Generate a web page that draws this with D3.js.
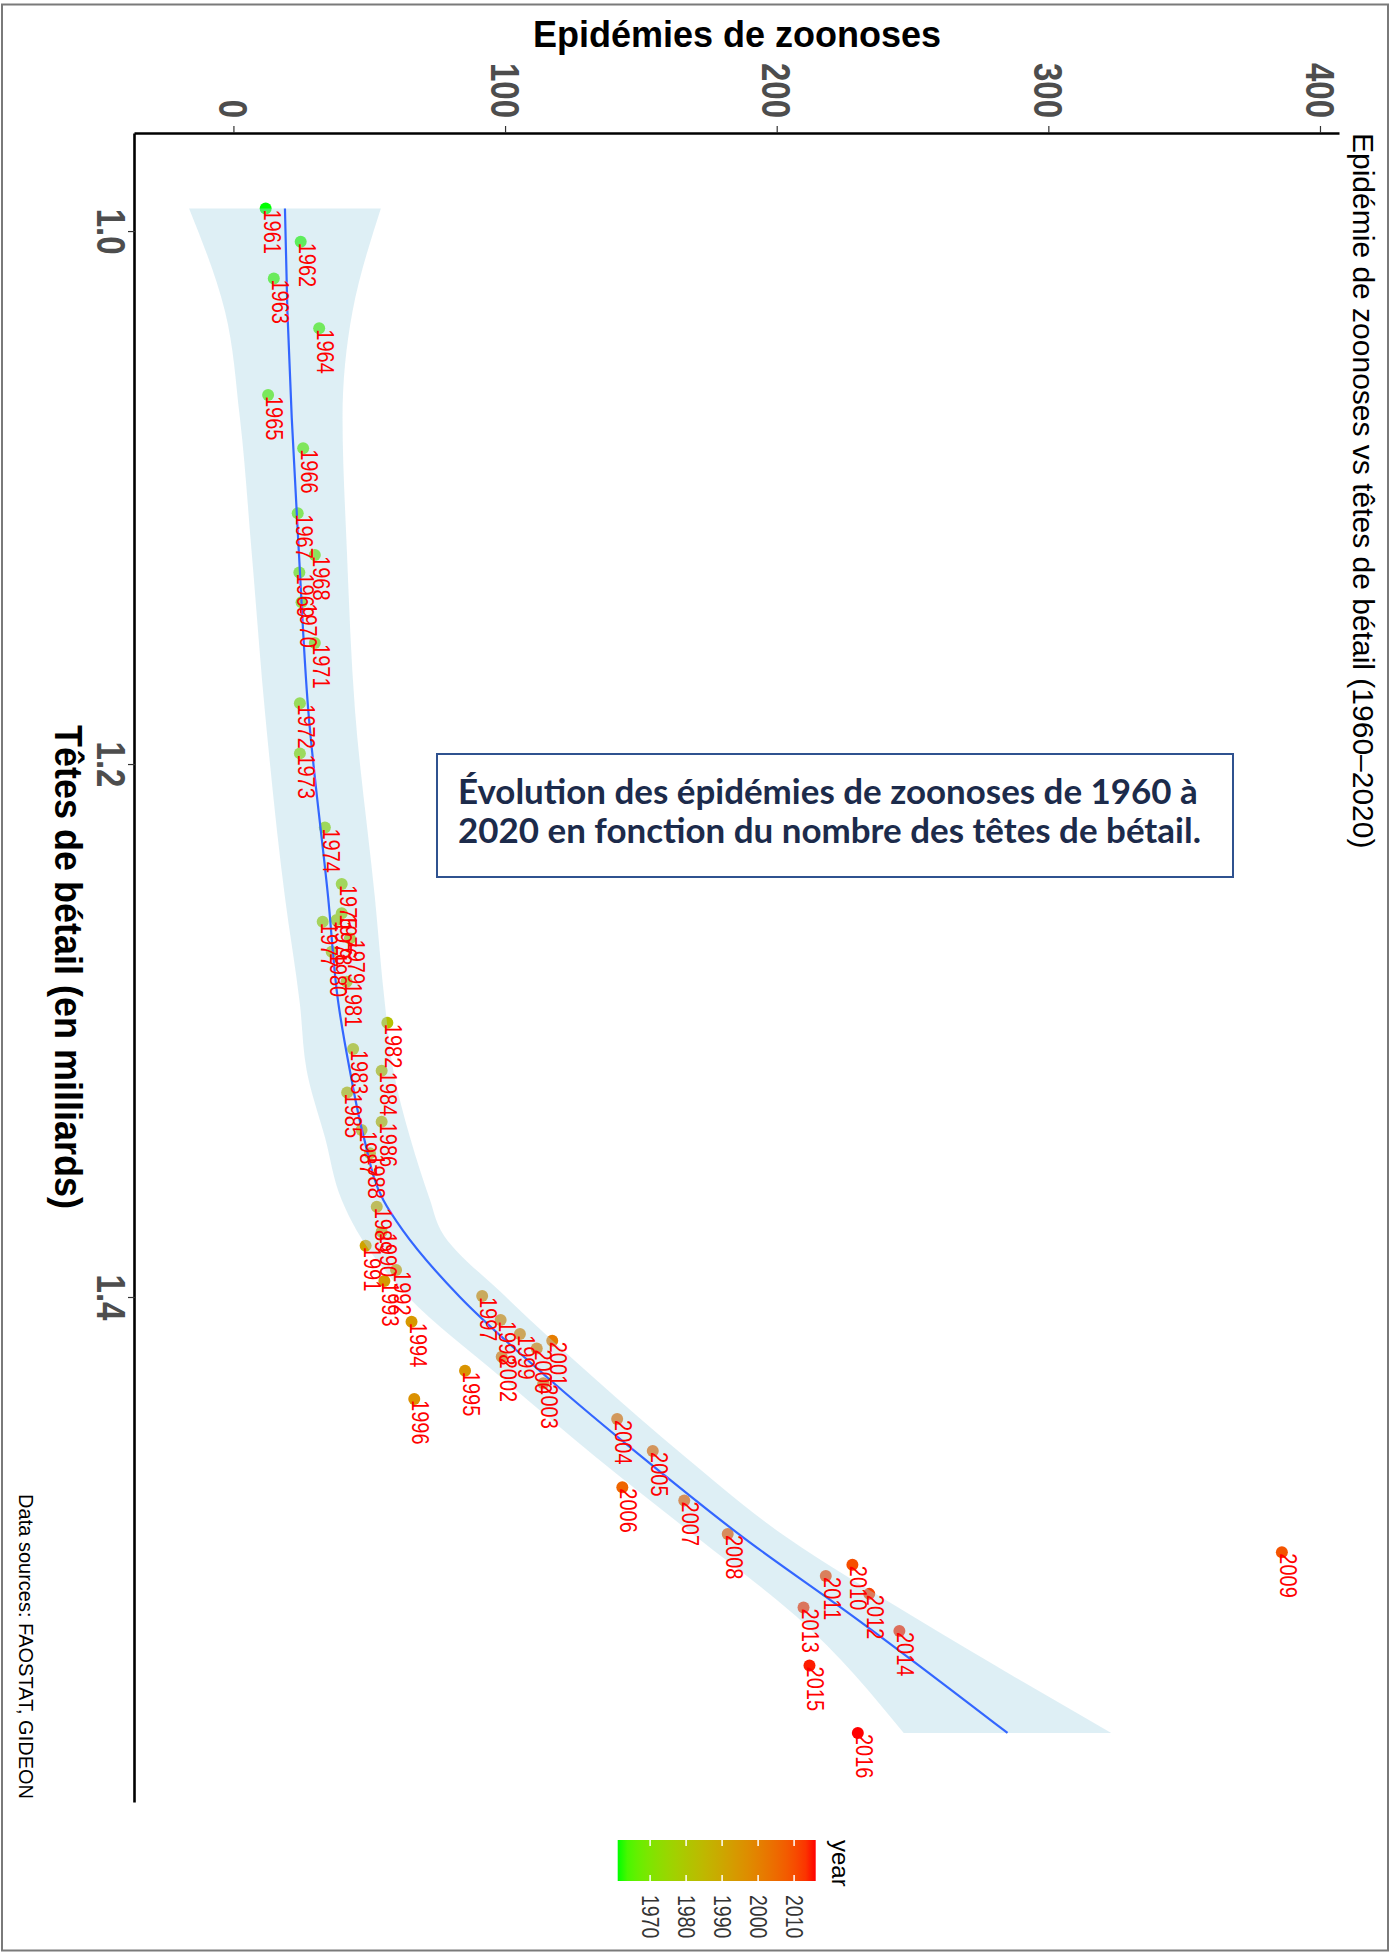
<!DOCTYPE html>
<html>
<head>
<meta charset="utf-8">
<style>
body { margin: 0; background: #fff; }
svg { display: block; }
</style>
<script src="https://d3js.org/d3.v7.min.js"></script>
</head>
<body>
<svg width="1397" height="1953"></svg>
<script>
// points: one per year, cattle heads (billions) vs zoonose outbreaks
var years = [1961, 1962, 1963, 1964, 1965, 1966, 1967, 1968, 1969, 1970,
             1971, 1972, 1973, 1974, 1975, 1976, 1977, 1978, 1979, 1980,
             1981, 1982, 1983, 1984, 1985, 1986, 1987, 1988, 1989, 1990,
             1991, 1992, 1993, 1994, 1995, 1996, 1997, 1998, 1999, 2000,
             2001, 2002, 2003, 2004, 2005, 2006, 2007, 2008, 2009, 2010,
             2011, 2012, 2013, 2014, 2015, 2016];
var cattle = [0.9915, 1.0040, 1.0178, 1.0365, 1.0615, 1.0815, 1.1059, 1.1216, 1.1281, 1.1393,
              1.1546, 1.1772, 1.1960, 1.2238, 1.2450, 1.2560, 1.2592, 1.2585, 1.2655, 1.2704,
              1.2817, 1.2971, 1.3069, 1.3151, 1.3233, 1.3342, 1.3373, 1.3461, 1.3661, 1.3755,
              1.3808, 1.3899, 1.3940, 1.4093, 1.4277, 1.4383, 1.3996, 1.4086, 1.4139, 1.4193,
              1.4164, 1.4224, 1.4324, 1.4458, 1.4578, 1.4714, 1.4764, 1.4889, 1.4958, 1.5005,
              1.5047, 1.5114, 1.5165, 1.5253, 1.5383, 1.5636];
var outbreaks = [11.5, 24.4, 14.5, 31.2, 12.4, 25.3, 23.3, 29.6, 23.9, 24.7,
                 29.6, 24.1, 24.1, 33.3, 39.5, 39.5, 32.5, 37.6, 42.5, 35.8,
                 41.3, 56.3, 43.7, 54.2, 41.5, 54.2, 46.8, 49.9, 52.4, 54.2,
                 48.3, 59.5, 55.2, 65.2, 84.9, 66.2, 91.2, 98.0, 105.1, 111.3,
                 117.0, 98.4, 113.7, 140.9, 154.0, 142.8, 165.6, 181.6, 385.6, 227.5,
                 217.7, 233.7, 209.5, 244.8, 211.7, 229.5];

// loess curve and its confidence band
var smoothX    = [0.9915, 1.03, 1.07, 1.12, 1.18, 1.25, 1.29, 1.315, 1.34, 1.3636, 1.375, 1.40, 1.43, 1.46, 1.49, 1.52, 1.5636];
var smoothFit  = [18.6, 19.5, 21.1, 23.7, 27.2, 34.5, 38.3, 42.5, 47.6, 54.8, 62.0, 83.0, 115.0, 150.0, 187.0, 228.0, 284.6];
var smoothLow  = [-16.7, -3.5, 2.0, 6.3, 11.2, 18.6, 24.1, 26.6, 33.3, 39.5, 45.0, 64.0, 98.0, 133.0, 170.0, 207.0, 246.4];
var smoothHigh = [53.9, 43.5, 39.8, 41.4, 44.4, 51.7, 55.4, 58.5, 64.6, 72.0, 76.0, 100.0, 132.0, 166.0, 203.0, 250.0, 322.8];

var xTicks = [1.0, 1.2, 1.4];
var yTicks = [0, 100, 200, 300, 400];
var legendTicks = [1970, 1980, 1990, 2000, 2010];

var svg = d3.select("svg");
var font = "'Liberation Sans', Arial, sans-serif";

// frame round the picture
svg.append("rect")
    .attr("x", 2).attr("y", 4.5)
    .attr("width", 1386).attr("height", 1946)
    .attr("fill", "none")
    .attr("stroke", "#7a7a7a")
    .attr("stroke-width", 2);

// the whole ggplot is turned a quarter clockwise
var g = svg.append("g").attr("transform", "translate(1397,0) rotate(90)");

var x = d3.scaleLinear().domain([0.9632, 1.5895]).range([133, 1802]);
var y = d3.scaleLinear().domain([-36.6, 407]).range([1262, 57]);
var colour = d3.scaleLinear().domain([1961, 2016])
    .range(["#00ff00", "#ff0000"])
    .interpolate(d3.interpolateLab);

// points first, the band goes over them
g.append("g").selectAll("circle")
    .data(years)
  .enter().append("circle")
    .attr("cx", function(d, i) { return x(cattle[i]); })
    .attr("cy", function(d, i) { return y(outbreaks[i]); })
    .attr("r", 6)
    .attr("fill", function(d) { return colour(d); });

var band = d3.area()
    .x(function(d, i) { return x(smoothX[i]); })
    .y0(function(d, i) { return y(smoothLow[i]); })
    .y1(function(d, i) { return y(smoothHigh[i]); })
    .curve(d3.curveMonotoneX);

g.append("path")
    .datum(smoothX)
    .attr("d", band)
    .attr("fill", "lightblue")
    .attr("fill-opacity", 0.4);

var fit = d3.line()
    .x(function(d, i) { return x(smoothX[i]); })
    .y(function(d, i) { return y(smoothFit[i]); })
    .curve(d3.curveMonotoneX);

g.append("path")
    .datum(smoothX)
    .attr("d", fit)
    .attr("fill", "none")
    .attr("stroke", "#3366ff")
    .attr("stroke-width", 2.2);

// year labels (the source picture is a little stretched across the glyphs)
g.append("g").selectAll("text")
    .data(years)
  .enter().append("text")
    .attr("transform", function(d, i) {
      return "translate(" + (x(cattle[i]) + 1) + "," + (y(outbreaks[i]) + 2) + ") scale(1,1.15)";
    })
    .attr("font-family", font)
    .attr("font-size", 20)
    .attr("fill", "#ff0000")
    .text(function(d) { return d; });

// axes
var xAxis = g.append("g")
    .attr("transform", "translate(0,1262)")
    .call(d3.axisBottom(x).tickValues(xTicks).tickFormat(d3.format(".1f")).tickSize(7).tickSizeOuter(0));
var yAxis = g.append("g")
    .attr("transform", "translate(133,0)")
    .call(d3.axisLeft(y).tickValues(yTicks).tickSize(7).tickSizeOuter(0));

[xAxis, yAxis].forEach(function(a) {
  a.select(".domain").attr("stroke", "#000").attr("stroke-width", 2.6);
  a.selectAll(".tick line").attr("stroke", "#333").attr("stroke-width", 1.2);
  a.selectAll(".tick text")
      .attr("font-family", font)
      .attr("font-weight", "bold")
      .attr("font-size", 33)
      .attr("fill", "#4d4d4d")
      .attr("transform", "scale(1,1.25)");
});
xAxis.selectAll(".tick text").attr("y", 38 / 1.25).attr("dy", 0);
yAxis.selectAll(".tick text").attr("x", -15).attr("dy", "0.36em");

g.append("text")
    .attr("transform", "translate(967,1342) scale(1,1.1)")
    .attr("text-anchor", "middle")
    .attr("font-family", font)
    .attr("font-weight", "bold")
    .attr("font-size", 36)
    .text("Têtes de bétail (en milliards)");

g.append("text")
    .attr("transform", "translate(47,660) rotate(-90)")
    .attr("text-anchor", "middle")
    .attr("font-family", font)
    .attr("font-weight", "bold")
    .attr("font-size", 36)
    .text("Epidémies de zoonoses");

g.append("text")
    .attr("x", 133)
    .attr("y", 44)
    .attr("font-family", font)
    .attr("font-size", 30)
    .text("Epidémie de zoonoses vs têtes de bétail (1960–2020)");

g.append("text")
    .attr("x", 1799)
    .attr("y", 1378)
    .attr("text-anchor", "end")
    .attr("font-family", font)
    .attr("font-size", 20)
    .text("Data sources: FAOSTAT, GIDEON");

// colour bar legend
var ly = d3.scaleLinear().domain([1961, 2016]).range([779.3, 581.3]);
var grad = svg.append("defs").append("linearGradient")
    .attr("id", "yearGrad")
    .attr("x1", 0).attr("y1", 1).attr("x2", 0).attr("y2", 0);
grad.selectAll("stop")
    .data(d3.range(0, 1.0001, 0.05))
  .enter().append("stop")
    .attr("offset", function(t) { return t; })
    .attr("stop-color", function(t) { return colour(1961 + t * 55); });

var legend = g.append("g");
legend.append("rect")
    .attr("x", 1840).attr("y", ly(2016))
    .attr("width", 41).attr("height", ly(1961) - ly(2016))
    .attr("fill", "url(#yearGrad)");
legend.selectAll("line.l")
    .data(legendTicks)
  .enter().append("line")
    .attr("x1", 1840).attr("x2", 1846)
    .attr("y1", ly).attr("y2", ly)
    .attr("stroke", "#fff").attr("stroke-width", 1.5);
legend.selectAll("line.r")
    .data(legendTicks)
  .enter().append("line")
    .attr("x1", 1875).attr("x2", 1881)
    .attr("y1", ly).attr("y2", ly)
    .attr("stroke", "#fff").attr("stroke-width", 1.5);
legend.selectAll("text.tk")
    .data(legendTicks)
  .enter().append("text")
    .attr("transform", function(d) { return "translate(1895," + ly(d) + ") scale(1,1.2)"; })
    .attr("dy", "0.36em")
    .attr("font-family", font)
    .attr("font-size", 19.5)
    .attr("fill", "#333")
    .text(function(d) { return d; });
legend.append("text")
    .attr("x", 1840)
    .attr("y", 565)
    .attr("font-family", font)
    .attr("font-size", 24)
    .text("year");

// text box laid over the picture, not turned
var box = svg.append("g");
box.append("rect")
    .attr("x", 437).attr("y", 754)
    .attr("width", 796).attr("height", 123)
    .attr("fill", "#fff")
    .attr("stroke", "#2f528f")
    .attr("stroke-width", 2);
var boxLines = ["Évolution des épidémies de zoonoses de 1960 à",
                "2020 en fonction du nombre des têtes de bétail."];
var bt = box.selectAll("text")
    .data(boxLines)
  .enter().append("text")
    .attr("x", 458)
    .attr("y", function(d, i) { return 804 + i * 39; })
    .attr("font-family", "Lato, 'Open Sans', sans-serif")
    .attr("font-weight", 700)
    .attr("font-size", 30)
    .attr("fill", "#1c2b4b")
    .text(function(d) { return d; });
var len = bt.node().getComputedTextLength();
bt.attr("font-size", 30 * 740 / len);
</script>
</body>
</html>
